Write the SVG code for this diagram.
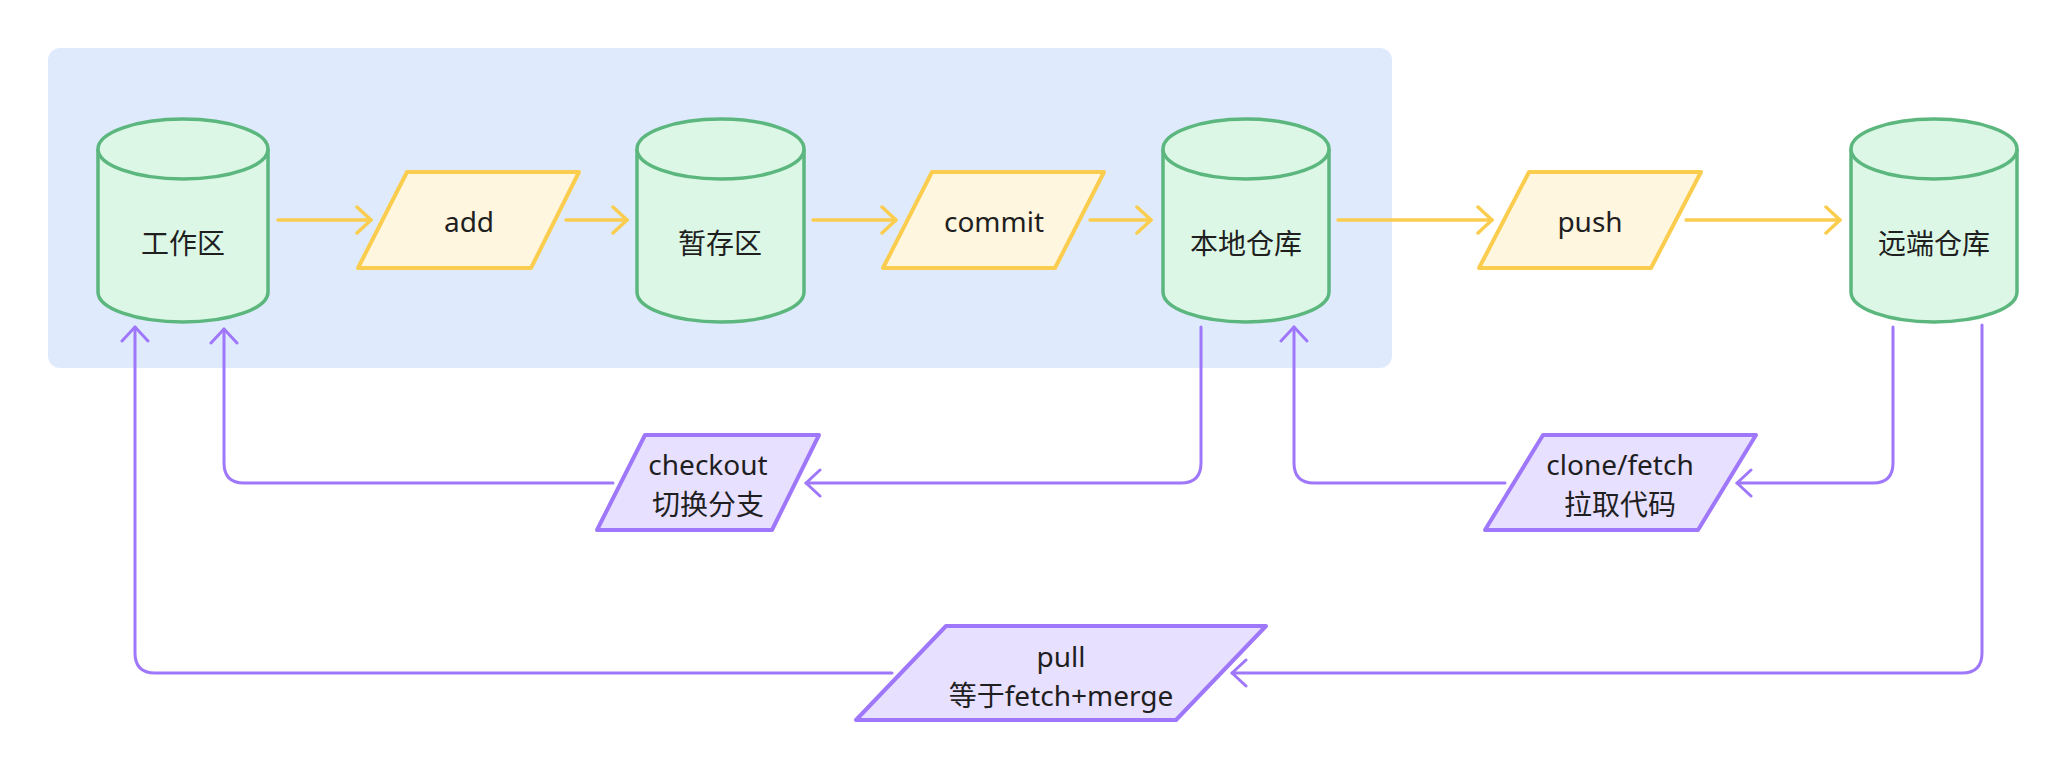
<svg xmlns="http://www.w3.org/2000/svg" width="2068" height="774" viewBox="0 0 2068 774">
<style>
.bg{fill:#dfebfd;}
.cyl{fill:#dcf7e6;stroke:#5cb77e;stroke-width:3.5;}
.io{fill:#fff6e0;stroke:#fbcd4f;stroke-width:4;stroke-linejoin:round;}
.io2{fill:#e8e0ff;stroke:#9f77fa;stroke-width:4;stroke-linejoin:round;}
.lbl{font-family:"Noto Sans","Noto Sans CJK SC",sans-serif;font-size:28px;fill:#1f1f1f;text-anchor:middle;}
.ey{fill:none;stroke:#fbcd4f;stroke-width:3.5;stroke-linecap:round;}
.ep{fill:none;stroke:#9f77fa;stroke-width:3;stroke-linecap:round;}
</style>
<defs>
<marker id="ay" viewBox="0 0 20 30" refX="17" refY="15" markerWidth="20" markerHeight="30" markerUnits="userSpaceOnUse" orient="auto">
<path d="M3,2 L17,15 L3,28" fill="none" stroke="#fbcd4f" stroke-width="3.5" stroke-linecap="round" stroke-linejoin="round"/>
</marker>
<marker id="ap" viewBox="0 0 20 30" refX="17" refY="15" markerWidth="20" markerHeight="30" markerUnits="userSpaceOnUse" orient="auto">
<path d="M3,2 L17,15 L3,28" fill="none" stroke="#9f77fa" stroke-width="3" stroke-linecap="round" stroke-linejoin="round"/>
</marker>
</defs>
<rect class="bg" x="48" y="48" width="1344" height="320" rx="12"/>
<g id="connectors">
<path class="ey" d="M278,220 H371" marker-end="url(#ay)"/>
<path class="ey" d="M566,220 H627" marker-end="url(#ay)"/>
<path class="ey" d="M813,220 H896" marker-end="url(#ay)"/>
<path class="ey" d="M1090,220 H1151" marker-end="url(#ay)"/>
<path class="ey" d="M1338,220 H1492" marker-end="url(#ay)"/>
<path class="ey" d="M1686,220 H1840" marker-end="url(#ay)"/>
<path class="ep" d="M1201,327 V463 Q1201,483 1181,483 H806" marker-end="url(#ap)"/>
<path class="ep" d="M613,483 H244 Q224,483 224,463 V329" marker-end="url(#ap)"/>
<path class="ep" d="M1893,327 V463 Q1893,483 1873,483 H1737" marker-end="url(#ap)"/>
<path class="ep" d="M1505,483 H1314 Q1294,483 1294,463 V327" marker-end="url(#ap)"/>
<path class="ep" d="M1982,325 V653 Q1982,673 1962,673 H1232" marker-end="url(#ap)"/>
<path class="ep" d="M892,673 H155 Q135,673 135,653 V327" marker-end="url(#ap)"/>
</g>
<g id="workspace">
<path class="cyl" d="M98,149 A85,30 0 0 1 268,149 V292 A85,30 0 0 1 98,292 Z"/>
<path class="cyl" d="M98,149 A85,30 0 0 0 268,149"/>
<text class="lbl" x="183" y="254">工作区</text>
</g>
<g id="add">
<polygon class="io" points="407,172 579,172 531,268 358,268"/>
<text class="lbl" x="469" y="232">add</text>
</g>
<g id="stage">
<path class="cyl" d="M637,149 A83.5,30 0 0 1 804,149 V292 A83.5,30 0 0 1 637,292 Z"/>
<path class="cyl" d="M637,149 A83.5,30 0 0 0 804,149"/>
<text class="lbl" x="720" y="254">暂存区</text>
</g>
<g id="commit">
<polygon class="io" points="932,172 1104,172 1055,268 883,268"/>
<text class="lbl" x="994" y="232">commit</text>
</g>
<g id="local">
<path class="cyl" d="M1163,149 A83,30 0 0 1 1329,149 V292 A83,30 0 0 1 1163,292 Z"/>
<path class="cyl" d="M1163,149 A83,30 0 0 0 1329,149"/>
<text class="lbl" x="1246" y="254">本地仓库</text>
</g>
<g id="push">
<polygon class="io" points="1529,172 1701,172 1651,268 1479,268"/>
<text class="lbl" x="1590" y="232">push</text>
</g>
<g id="remote">
<path class="cyl" d="M1851,149 A83,30 0 0 1 2017,149 V292 A83,30 0 0 1 1851,292 Z"/>
<path class="cyl" d="M1851,149 A83,30 0 0 0 2017,149"/>
<text class="lbl" x="1934" y="254">远端仓库</text>
</g>
<g id="checkout">
<polygon class="io2" points="645,435 819,435 772,530 597,530"/>
<text class="lbl" x="708" y="475">checkout</text>
<text class="lbl" x="708" y="515">切换分支</text>
</g>
<g id="clone">
<polygon class="io2" points="1543,435 1756,435 1698,530 1485,530"/>
<text class="lbl" x="1620" y="475">clone/fetch</text>
<text class="lbl" x="1620" y="515">拉取代码</text>
</g>
<g id="pull">
<polygon class="io2" points="946,626 1266,626 1176,720 856,720"/>
<text class="lbl" x="1061" y="667">pull</text>
<text class="lbl" x="1061" y="706">等于fetch+merge</text>
</g>
</svg>
